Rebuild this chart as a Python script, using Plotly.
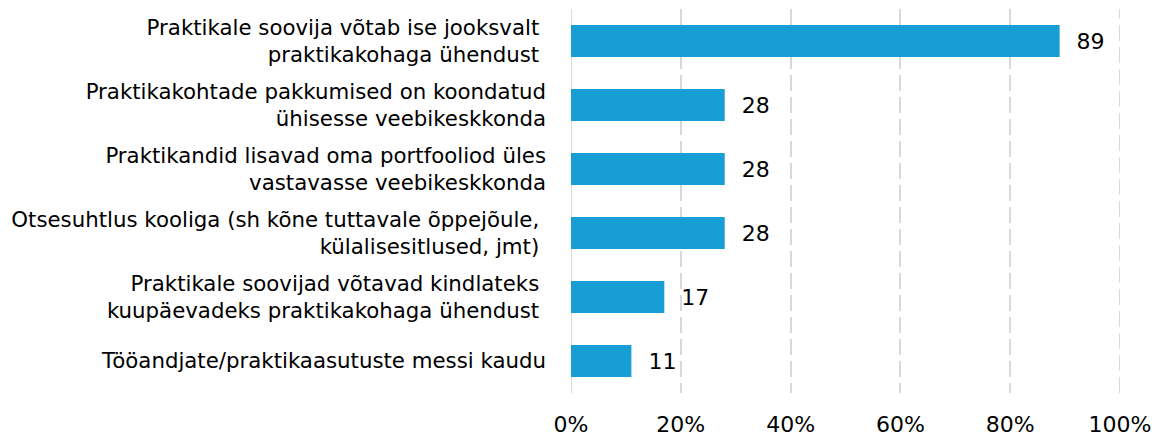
import plotly.graph_objects as go

categories = [
    "Praktikale soovija võtab ise jooksvalt\u00a0<br>praktikakohaga ühendust\u00a0",
    "Praktikakohtade pakkumised on koondatud<br>ühisesse veebikeskkonda",
    "Praktikandid lisavad oma portfooliod üles<br>vastavasse veebikeskkonda",
    "Otsesuhtlus kooliga (sh kõne tuttavale õppejõule,\u00a0<br>külalisesitlused, jmt)\u00a0",
    "Praktikale soovijad võtavad kindlateks\u00a0<br>kuupäevadeks praktikakohaga ühendust\u00a0",
    "Tööandjate/praktikaasutuste messi kaudu",
]
values = [89, 28, 28, 28, 17, 11]
tick_vals = [0, 20, 40, 60, 80, 100]
tick_text = ["0%", "20%", "40%", "60%", "80%", "100%"]

FONT = "DejaVu Sans"
FS = 22
fig = go.Figure(
    go.Bar(
        x=values,
        y=categories,
        orientation="h",
        marker=dict(color="#179fd5", line=dict(width=0)),
        width=0.5,
        text=["\u00a0\u00a0" + str(v) for v in values],
        textposition="outside",
        textfont=dict(family=FONT, size=FS, color="#000000"),
        cliponaxis=False,
    )
)

# the page body has an 8px default margin, so the figure is sized to fit
fig.update_layout(
    width=1152,
    height=430,
    margin=dict(l=563, r=40, t=1, b=45),
    plot_bgcolor="white",
    paper_bgcolor="white",
    showlegend=False,
    font=dict(family=FONT, size=FS, color="#000000"),
    xaxis=dict(
        range=[0, 100],
        tickvals=tick_vals,
        ticktext=tick_text,
        showgrid=True,
        gridcolor="#d9d9d9",
        gridwidth=2,
        griddash="16px,6px",
        zeroline=False,
        showline=False,
        ticks="",
        tickfont=dict(family=FONT, size=FS, color="#000000"),
        ticklabelstandoff=16,
        automargin=False,
        fixedrange=True,
    ),
    yaxis=dict(
        autorange="reversed",
        showgrid=False,
        zeroline=False,
        showline=False,
        ticks="",
        tickfont=dict(family=FONT, size=21.3, color="#000000"),
        ticklabelstandoff=24,
        automargin=False,
        fixedrange=True,
    ),
    shapes=[
        dict(type="line", xref="x", yref="paper", x0=tick_vals[0], x1=tick_vals[0], y0=0, y1=1,
             line=dict(color="#d9d9d9", width=2), layer="below"),
        dict(type="line", xref="x", yref="paper", x0=tick_vals[-1], x1=tick_vals[-1], y0=0, y1=1,
             line=dict(color="#d9d9d9", width=2, dash="16px,6px"), layer="below"),
    ],
)

fig.write_html("out.html")
